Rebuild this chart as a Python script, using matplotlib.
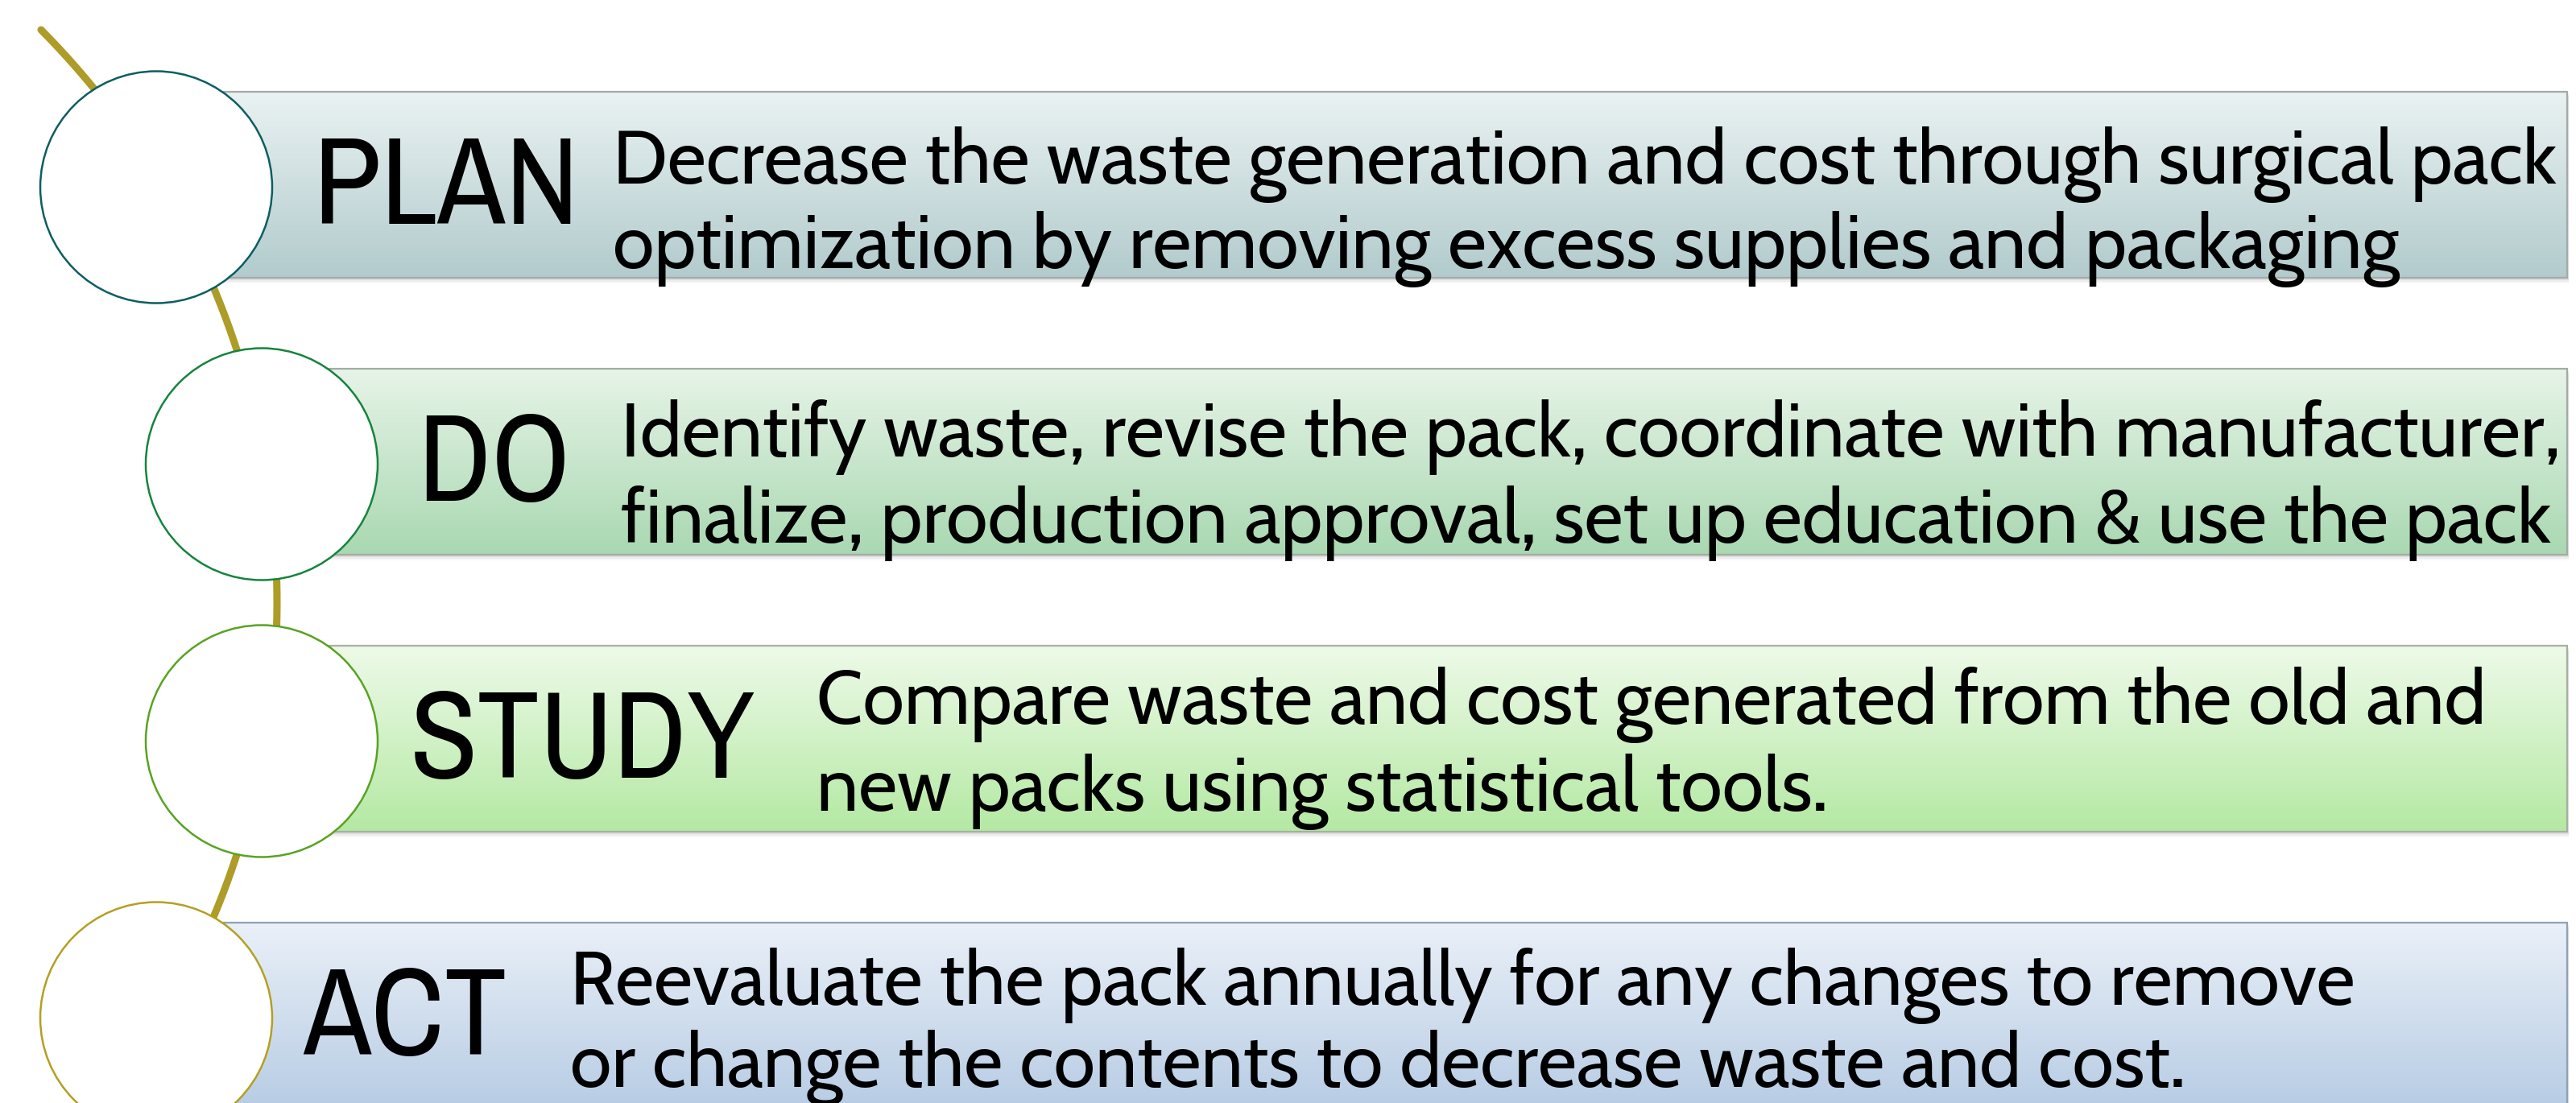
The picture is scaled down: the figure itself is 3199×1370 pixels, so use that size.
import numpy as np
import matplotlib
matplotlib.use('Agg')
import matplotlib.pyplot as plt
from matplotlib import font_manager as fm
from matplotlib.patches import Rectangle, Circle
from matplotlib.colors import to_rgb
from matplotlib.textpath import TextPath

# stages of the cycle
stages = ['PLAN', 'DO', 'STUDY', 'ACT']
lines = [
    ['Decrease the waste generation and cost through surgical pack',
     'optimization by removing excess supplies and packaging'],
    ['Identify waste, revise the pack, coordinate with manufacturer,',
     'finalize, production approval, set up education & use the pack'],
    ['Compare waste and cost generated from the old and',
     'new packs using statistical tools.'],
    ['Reevaluate the pack annually for any changes to remove',
     'or change the contents to decrease waste and cost.'],
]
bar_top_colors = ['#EAF2F2', '#E7F4E8', '#EEFAE9', '#EAF0F8']
bar_bot_colors = ['#B2CBCD', '#A9D8B1', '#B4E9A3', '#B7CCE4']
bar_edges = ['#A3AAAA', '#A2ABA4', '#A6B0A2', '#8EA2B6']
ring_colors = ['#0C5E62', '#15843D', '#58A321', '#B59F22']

# layout (pixels, figure is 3199 x 1370)
W, H = 3199, 1370
bar_y0 = 114
bar_step = 344
bar_h = 231
bar_right = 3188
circ_x = [194, 325, 325, 194]
circ_r = 144
label_x = [388, 518, 509, 376]
body_x = [761, 771, 1014, 708]
body_base = [[114, 219], [109, 216], [97, 205], [102, 204]]


def has_font(name):
    try:
        fm.findfont(fm.FontProperties(family=name), fallback_to_default=False)
        return True
    except Exception:
        return False


def pick(cands, default):
    for c in cands:
        if has_font(c):
            return c
    return default


label_font = pick(['Liberation Sans Narrow', 'Arial Narrow', 'Archivo Narrow',
                   'Roboto Condensed'], 'Liberation Sans')
body_font = pick(['Gill Sans MT', 'Gill Sans', 'Cabin', 'Lato'], 'DejaVu Sans')

fig = plt.figure(figsize=(W / 100, H / 100), dpi=100)
ax = fig.add_axes([0, 0, 1, 1])
ax.axis('off')

# arc running behind the circles
cx, cy, R = -665, 748, 1009
ys = np.linspace(37, 1230, 400)
xs = cx + np.sqrt(R ** 2 - (ys - cy) ** 2)
ax.plot(xs, ys, color='#AE9C28', lw=6.5, solid_capstyle='round', zorder=1)

renderer = fig.canvas.get_renderer()

# body font size fitted to the first PLAN line
probe = ax.text(0, 0, lines[0][0], fontsize=60, family=body_font)
wpx = probe.get_window_extent(renderer).width
body_size = 60 * 2413 / wpx
probe.remove()

# label size fitted to a cap height of ~106 px
cap = TextPath((0, 0), 'H', size=100, prop=fm.FontProperties(family=label_font)).get_extents().height
label_size = 100 * 106 / cap * 72 / 100

for i, name in enumerate(stages):
    y0 = bar_y0 + i * bar_step
    y1 = y0 + bar_h
    x0 = circ_x[i]
    # shadow
    for k, a in enumerate([0.10, 0.07, 0.04]):
        ax.add_patch(Rectangle((x0 + 2, y0 + 3 + k * 2), bar_right - x0, bar_h,
                               facecolor='#606060', edgecolor='none', alpha=a, zorder=2))
    # gradient fill
    t = np.linspace(0, 1, 256)[:, None, None]
    c0 = np.array(to_rgb(bar_top_colors[i]))[None, None, :]
    c1 = np.array(to_rgb(bar_bot_colors[i]))[None, None, :]
    img = c0 * (1 - t) + c1 * t
    ax.imshow(img, extent=(x0, bar_right, y1, y0), aspect='auto',
              interpolation='bilinear', zorder=3)
    ax.add_patch(Rectangle((x0, y0), bar_right - x0, bar_h, facecolor='none',
                           edgecolor=bar_edges[i], lw=1.6, zorder=4))
    # circle
    ax.add_patch(Circle((circ_x[i], y0 + bar_h / 2 + 3), circ_r, facecolor='white',
                        edgecolor=ring_colors[i], lw=1.8, zorder=5))
    # stage label
    ax.text(label_x[i], y0 + 164, name, fontsize=label_size, family=label_font,
            color='black', ha='left', va='baseline', zorder=6)
    # description
    for j, txt in enumerate(lines[i]):
        ax.text(body_x[i], y0 + body_base[i][j], txt, fontsize=body_size,
                family=body_font, color='black', ha='left', va='baseline', zorder=6)

ax.set_xlim(0, W)
ax.set_ylim(H, 0)
fig.savefig('out.png', dpi=100, facecolor='white')
